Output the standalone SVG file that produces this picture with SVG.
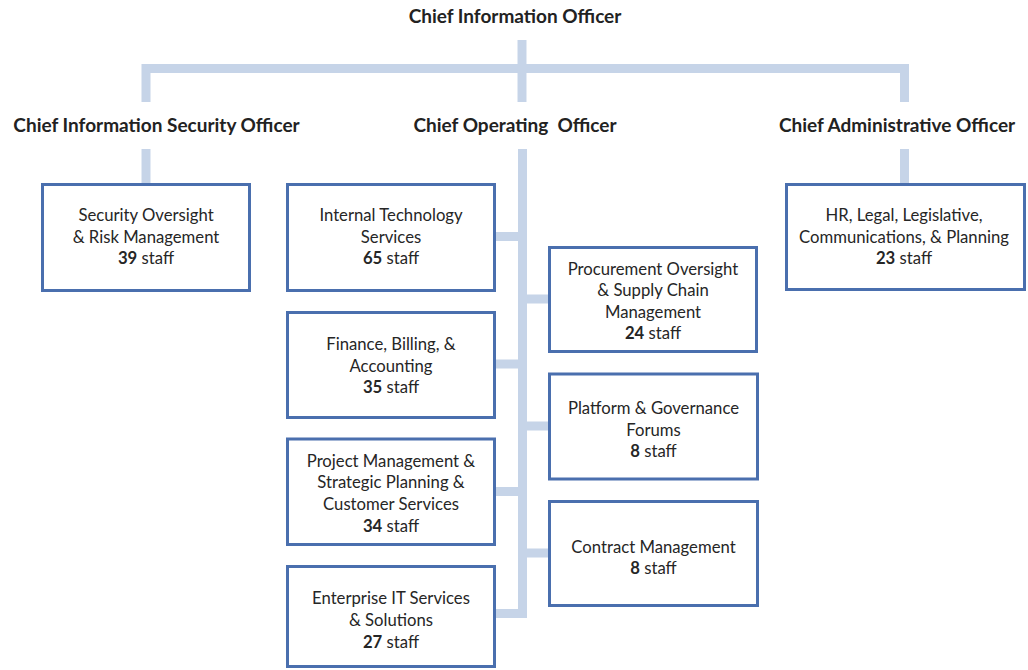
<svg xmlns="http://www.w3.org/2000/svg" width="1028" height="670" viewBox="0 0 1028 670">
<style>
.c{fill:none;stroke:#c6d4e8;stroke-width:9;stroke-linecap:butt;stroke-linejoin:miter}
.b{fill:#fff;stroke:#4a6fae;stroke-width:3}
.h{font-family:Lato,"Liberation Sans",sans-serif;font-weight:bold;font-size:19px;fill:#222;text-anchor:middle}
.t{font-family:Lato,"Liberation Sans",sans-serif;font-size:16.7px;fill:#262626;text-anchor:middle}
.t tspan.n{font-weight:bold}
</style>
<rect width="1028" height="670" fill="#fff"/>
<g id="connectors">
<path class="c" d="M522,40V102"/>
<path class="c" d="M146,102V68.5H904.5V102"/>
<path class="c" d="M146,149V183"/>
<path class="c" d="M904.5,149V183"/>
<path class="c" d="M522.5,149V618"/>
<path class="c" d="M496,236.5H522M496,364H522M496,491.5H522M496,613.5H522"/>
<path class="c" d="M523,299H548M523,426H548M523,553H548"/>
</g>
<g id="cio"><text class="h" x="515" y="23">Chief Information Officer</text></g>
<g id="ciso"><text class="h" x="156.5" y="132">Chief Information Security Officer</text></g>
<g id="coo"><text class="h" x="515" y="132" xml:space="preserve">Chief Operating  Officer</text></g>
<g id="cao"><text class="h" x="897" y="132">Chief Administrative Officer</text></g>
<g id="security">
<rect class="b" x="42.5" y="184.5" width="207" height="106"/>
<text class="t" x="146" y="221">Security Oversight</text>
<text class="t" x="146" y="242.5">&amp; Risk Management</text>
<text class="t" x="146" y="264"><tspan class="n">39</tspan> staff</text>
</g>
<g id="internal">
<rect class="b" x="287.5" y="184.5" width="207" height="106"/>
<text class="t" x="391" y="221">Internal Technology</text>
<text class="t" x="391" y="242.5">Services</text>
<text class="t" x="391" y="264"><tspan class="n">65</tspan> staff</text>
</g>
<g id="finance">
<rect class="b" x="287.5" y="312.5" width="207" height="105"/>
<text class="t" x="391" y="350.3">Finance, Billing, &amp;</text>
<text class="t" x="391" y="372">Accounting</text>
<text class="t" x="391" y="393.3"><tspan class="n">35</tspan> staff</text>
</g>
<g id="project">
<rect class="b" x="287.5" y="439" width="207" height="105.5"/>
<text class="t" x="391" y="466.7">Project Management &amp;</text>
<text class="t" x="391" y="488.3">Strategic Planning &amp;</text>
<text class="t" x="391" y="510">Customer Services</text>
<text class="t" x="391" y="531.7"><tspan class="n">34</tspan> staff</text>
</g>
<g id="enterprise">
<rect class="b" x="287.5" y="566.5" width="207" height="100"/>
<text class="t" x="391" y="604.3">Enterprise IT Services</text>
<text class="t" x="391" y="626">&amp; Solutions</text>
<text class="t" x="391" y="647.7"><tspan class="n">27</tspan> staff</text>
</g>
<g id="procurement">
<rect class="b" x="549.5" y="247.5" width="207" height="104"/>
<text class="t" x="653" y="274.5">Procurement Oversight</text>
<text class="t" x="653" y="296">&amp; Supply Chain</text>
<text class="t" x="653" y="317.5">Management</text>
<text class="t" x="653" y="339"><tspan class="n">24</tspan> staff</text>
</g>
<g id="platform">
<rect class="b" x="549.5" y="374" width="208" height="105"/>
<text class="t" x="653.5" y="414.3">Platform &amp; Governance</text>
<text class="t" x="653.5" y="436">Forums</text>
<text class="t" x="653.5" y="457"><tspan class="n">8</tspan> staff</text>
</g>
<g id="contract">
<rect class="b" x="549.5" y="501.5" width="208" height="104"/>
<text class="t" x="653.5" y="552.7">Contract Management</text>
<text class="t" x="653.5" y="574.3"><tspan class="n">8</tspan> staff</text>
</g>
<g id="admin">
<rect class="b" x="786.5" y="184.5" width="238" height="105"/>
<text class="t" x="904" y="221">HR, Legal, Legislative,</text>
<text class="t" x="904" y="242.5">Communications, &amp; Planning</text>
<text class="t" x="904" y="264"><tspan class="n">23</tspan> staff</text>
</g>
</svg>
